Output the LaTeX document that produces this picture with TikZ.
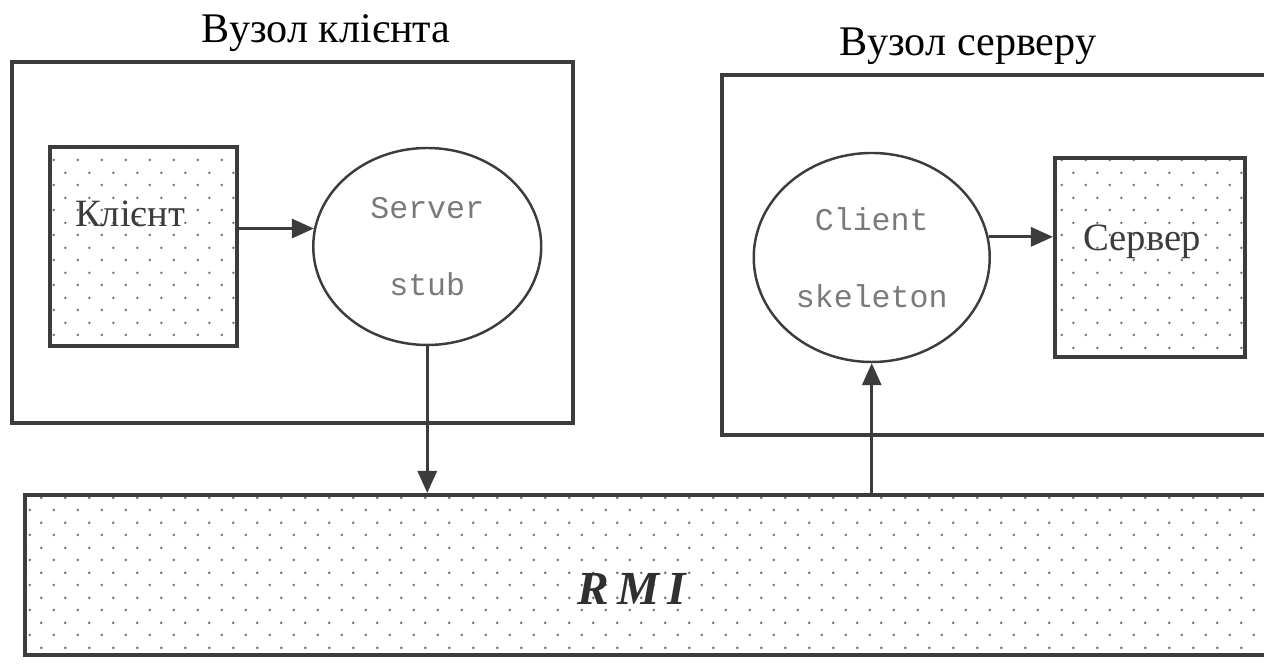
\documentclass[tikz,border=0pt]{standalone}
\usepackage{fontspec}
\setmainfont{Liberation Serif}
\setmonofont{Liberation Mono}
\usepackage{xcolor}
\usepackage{tikz}
\usetikzlibrary{positioning,arrows.meta,shapes.geometric,patterns.meta}
\definecolor{edge}{HTML}{3C3C3C}
\definecolor{dotc}{HTML}{777777}
\definecolor{mono}{HTML}{7A7A7A}
\tikzdeclarepattern{
  name=dotgrid,
  type=uncolored,
  bounding box={(0,0) and (0.48cm,0.5cm)},
  tile size={(0.48cm,0.5cm)},
  code={
    \fill (0.12cm,0.125cm) circle (0.03cm);
    \fill (0.36cm,0.375cm) circle (0.03cm);
  }
}

\begin{document}
\begin{tikzpicture}[>={Triangle[length=4.4mm,width=3.8mm]},node distance=1cm,
	frame/.style={draw=edge,line width=2.3pt,inner sep=0pt},
	dotbox/.style={frame,pattern=dotgrid,pattern color=dotc},
	oval/.style={ellipse,draw=edge,line width=1.4pt,inner sep=0pt,align=center,text=mono,font=\fontsize{18}{44}\ttfamily},
	conn/.style={->,draw=edge,line width=1.7pt},
	title/.style={anchor=base,font=\fontsize{24}{28}\selectfont},
	lbl/.style={anchor=base,text=edge,font=\fontsize{22}{26}\selectfont}]
			\useasboundingbox (0,0) rectangle (25.28,13.32);
			\clip (0,0) rectangle (25.28,13.32);

			\node[frame,minimum width=11.22cm,minimum height=7.22cm] (cnode) at (5.85,8.47) {};
			\node[frame,minimum width=11.16cm,minimum height=7.2cm] (snode) at (20.02,8.22) {};
			\node[title] (ctitle) at (6.52,12.46) {Вузол клієнта};
			\node[title] (stitle) at (19.36,12.2) {Вузол серверу};

			\node[dotbox,minimum width=3.74cm,minimum height=3.98cm] (klient) at (2.87,8.39) {};
			\node[lbl] (klienttxt) at (2.6,8.78) {Клієнт};
			\node[oval,minimum width=4.56cm,minimum height=3.94cm,right=1.46cm of klient] (stub) {Server\\stub};

			\node[dotbox,minimum width=3.8cm,minimum height=3.98cm] (server) at (23.0,8.17) {};
			\node[lbl] (servertxt) at (22.84,8.3) {Сервер};
			\node[oval,minimum width=4.72cm,minimum height=4.18cm,left=1.24cm of server] (skel) {Client\\skeleton};

			\node[dotbox,minimum width=25.1cm,minimum height=3.2cm] (rmi) at (13.05,1.82) {};
			\node[anchor=base,text=edge!80!black,font=\fontsize{27}{30}\selectfont\bfseries\itshape] (rmitxt) at (12.64,1.22) {R\,M\,I};

			\draw[conn] (klient.east |- stub.171) -- (stub.171);
			\draw[conn] (skel.10) -- (server.west |- skel.10);
			\draw[conn] (stub.south) -- (stub.south |- rmi.north);
			\draw[conn] (skel.south |- rmi.north) -- (skel.south);
\end{tikzpicture}
\end{document}
